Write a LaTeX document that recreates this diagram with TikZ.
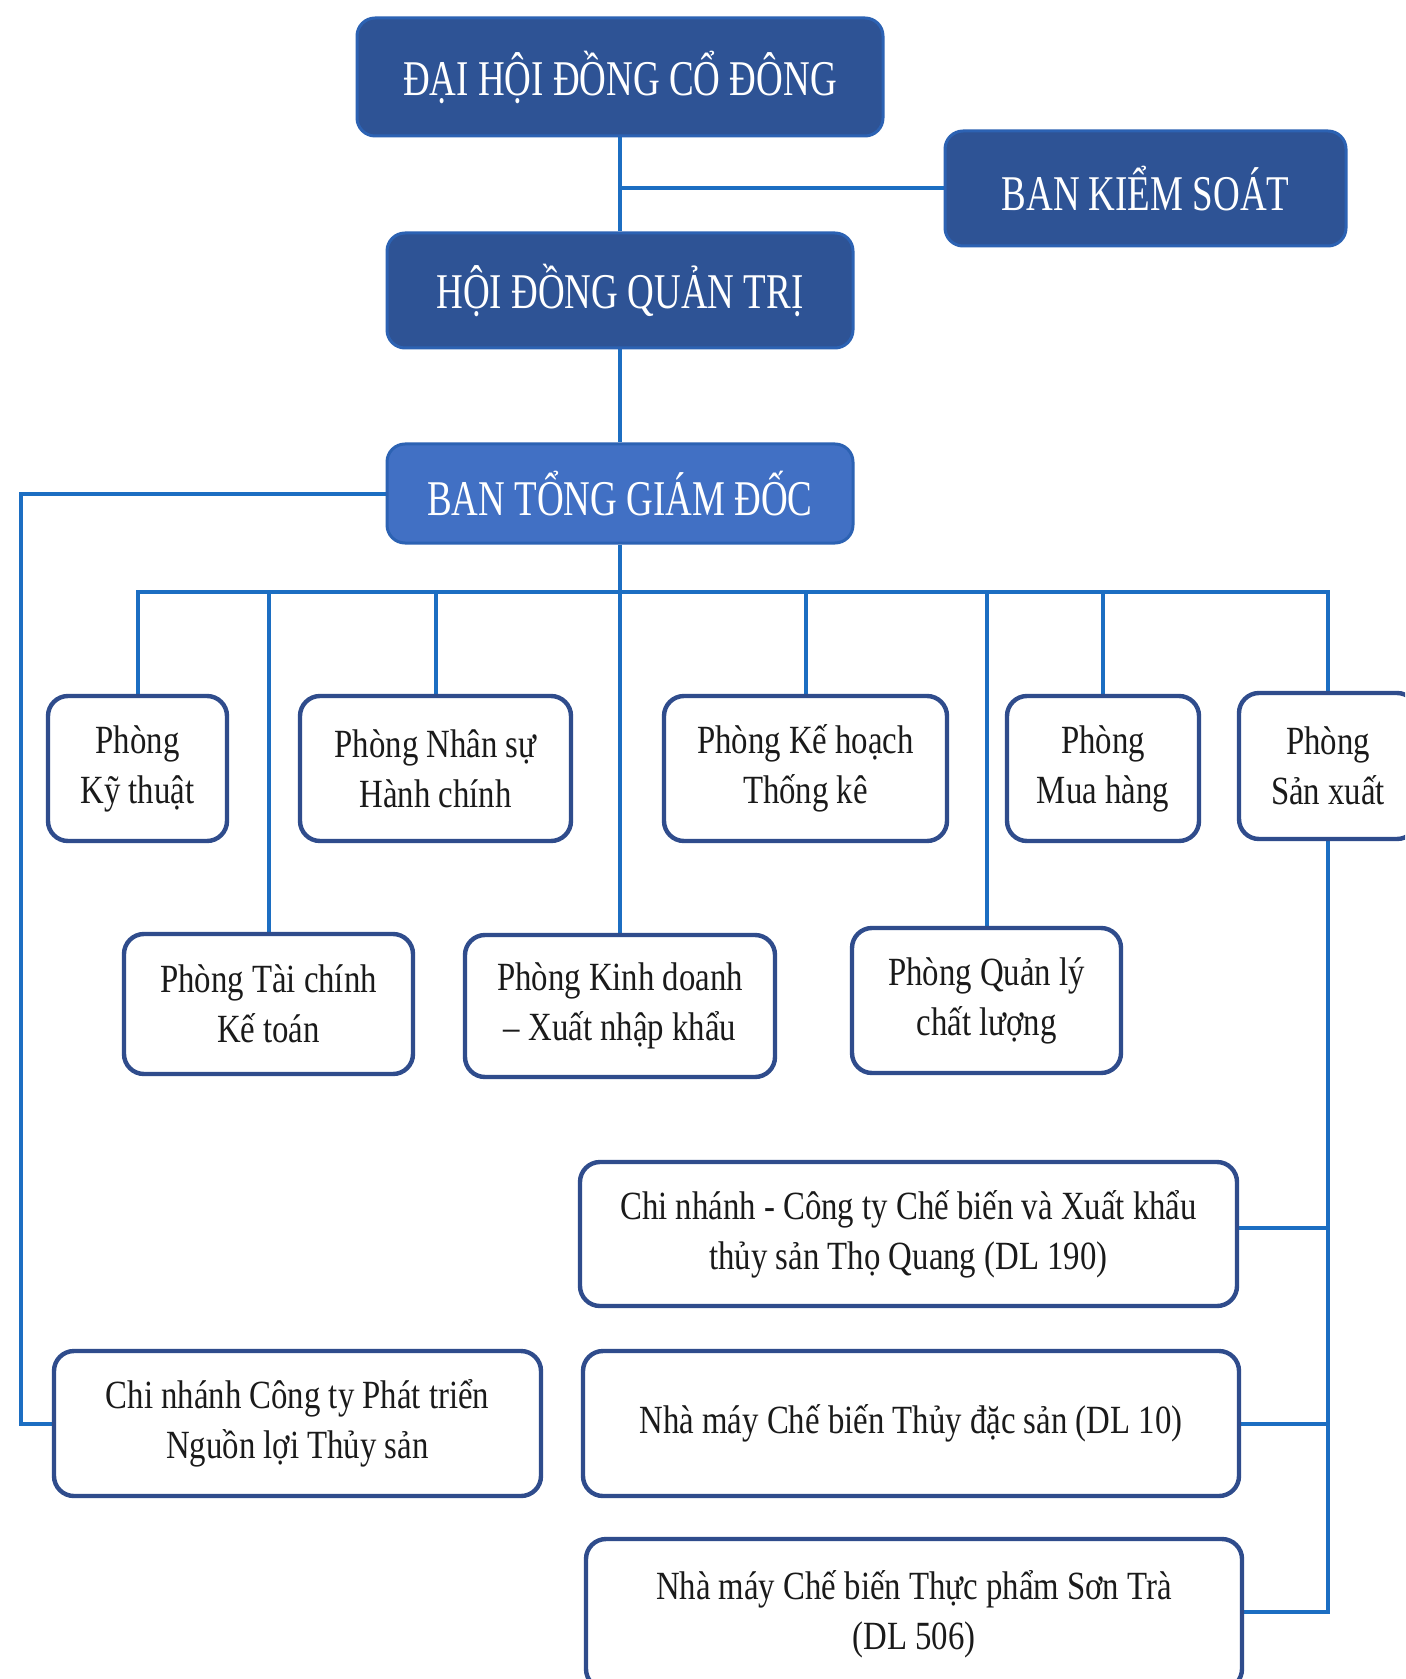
\documentclass[tikz,border=0pt]{standalone}
\usepackage{fontspec}
\setmainfont{Liberation Serif}
\newfontfamily\hfont[FakeStretch=0.74]{Liberation Serif}
\newfontfamily\bfont[FakeStretch=0.82]{Liberation Serif}
\usetikzlibrary{backgrounds}
\definecolor{dk}{HTML}{2E5395}
\definecolor{dkedge}{HTML}{2C62B3}
\definecolor{lt}{HTML}{4170C4}
\definecolor{ln}{HTML}{1C6EC2}
\definecolor{bd}{HTML}{2F4C8C}
\definecolor{tx}{HTML}{1A1A1A}
\begin{document}
\begin{tikzpicture}[x=0.5pt,y=-0.5pt,
  head/.style={rounded corners=9pt, fill=dk, draw=dkedge, line width=1.5pt, text=white,
    font=\hfont\fontsize{25}{30}\selectfont, align=center, inner sep=0pt},
  unit/.style={rounded corners=10pt, fill=white, draw=bd, line width=2.2pt, text=tx,
    font=\bfont\fontsize{20}{25}\selectfont, align=center, inner sep=0pt},
  conn/.style={draw=ln, line width=2pt}]
\clip (0,0) rectangle (1405,1679);

% top-level boxes
\node[head, minimum width=263pt, minimum height=59pt] (dhcd) at (620,77) {ĐẠI HỘI ĐỒNG CỔ ĐÔNG};
\node[head, minimum width=200.5pt, minimum height=57.5pt] (bks) at (1145.5,188.5) {BAN KIỂM SOÁT};
\node[head, minimum width=233pt, minimum height=57.5pt] (hdqt) at (620,290.5) {HỘI ĐỒNG QUẢN TRỊ};
\node[head, fill=lt, minimum width=233pt, minimum height=49.5pt] (btgd) at (620,493.5) {BAN TỔNG GIÁM ĐỐC};

% departments row 1
\node[unit, minimum width=89.5pt, minimum height=72.5pt] (kt) at (137.5,768.5) {Phòng\\Kỹ thuật};
\node[unit, minimum width=135.5pt, minimum height=72.5pt] (ns) at (435.5,768.5) {Phòng Nhân sự\\Hành chính};
\node[unit, minimum width=141.5pt, minimum height=72.5pt] (kh) at (805.5,768.5) {Phòng Kế hoạch\\Thống kê};
\node[unit, minimum width=96pt, minimum height=72.5pt] (mh) at (1103,768.5) {Phòng\\Mua hàng};
\node[unit, minimum width=89pt, minimum height=73pt] (sx) at (1328,766) {Phòng\\Sản xuất};

% departments row 2
\node[unit, minimum width=144.5pt, minimum height=70pt] (tc) at (268.5,1004) {Phòng Tài chính\\Kế toán};
\node[unit, minimum width=155pt, minimum height=71pt] (kd) at (620,1006) {Phòng Kinh doanh\\– Xuất nhập khẩu};
\node[unit, minimum width=134.5pt, minimum height=72.5pt] (ql) at (986.5,1000.5) {Phòng Quản lý\\chất lượng};

% branches
\node[unit, minimum width=328.5pt, minimum height=72pt] (tq) at (908.5,1234) {Chi nhánh - Công ty Chế biến và Xuất khẩu\\thủy sản Thọ Quang (DL 190)};
\node[unit, minimum width=328pt, minimum height=72.5pt] (dl) at (911,1423.5) {Nhà máy Chế biến Thủy đặc sản (DL 10)};
\node[unit, minimum width=328pt, minimum height=75pt] (st) at (914,1614) {Nhà máy Chế biến Thực phẩm Sơn Trà\\(DL 506)};
\node[unit, minimum width=243.5pt, minimum height=72.5pt] (pt) at (297.5,1423.5) {Chi nhánh Công ty Phát triển\\Nguồn lợi Thủy sản};

\coordinate (lx) at (21,493.5);
\coordinate (bus) at (620,592);

\begin{scope}[on background layer]
\fill[white] (0,0) rectangle (1405,1679);
\draw[conn] (dhcd.south) -- (hdqt.north);
\draw[conn] (dhcd.south |- bks.west) -- (bks.west);
\draw[conn] (hdqt.south) -- (btgd.north);
\draw[conn] (btgd.west) -- (lx) |- (pt.west);
\draw[conn] (btgd.south) -- (kd.north);
\draw[conn] (kt.north) |- (bus) -| (sx.north);
\draw[conn] (ns.north) -- (ns.north |- bus);
\draw[conn] (kh.north) -- (kh.north |- bus);
\draw[conn] (mh.north) -- (mh.north |- bus);
\draw[conn] (tc.north) -- (tc.north |- bus);
\draw[conn] (ql.north) -- (ql.north |- bus);
\draw[conn] (sx.south) |- ([yshift=1pt]st.east);
\draw[conn] ([yshift=3pt]tq.east) -- ([yshift=3pt]tq.east -| sx.south);
\draw[conn] (dl.east) -- (dl.east -| sx.south);
\end{scope}
\end{tikzpicture}
\end{document}
